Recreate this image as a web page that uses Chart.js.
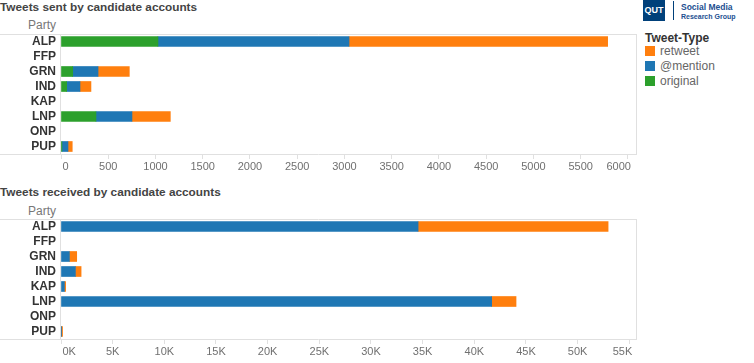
<!DOCTYPE html>
<html>
<head>
<meta charset="utf-8">
<script src="https://cdn.jsdelivr.net/npm/chart.js@4/dist/chart.umd.min.js"></script>
<style>
  body { margin: 0; background: #fff; width: 754px; height: 363px; overflow: hidden; position: relative; font-family: Arial, "Liberation Sans", sans-serif; }
  .abs { position: absolute; white-space: nowrap; }
  .title { font-size: 11.8px; font-weight: bold; color: #444; line-height: 13px; left: 0; }
  .party { font-size: 12px; color: #777; line-height: 14px; width: 56px; text-align: right; left: 0; }
  .lgTitle { left: 645px; top: 31px; font-size: 12px; font-weight: bold; color: #333; line-height: 14px; }
  .lgItem { left: 645px; height: 15px; font-size: 12px; color: #666; line-height: 15px; }
  .lgItem i { display: inline-block; width: 10px; height: 10px; vertical-align: -1px; margin-right: 5px; }
  .logo { left: 643px; top: 0; width: 22px; height: 21px; background: #00407a; color: #fff; font-size: 9px; font-weight: bold; line-height: 21px; text-align: center; }
  .logoBar { left: 673px; top: 1px; width: 1px; height: 19px; background: #00407a; }
  .logoTxt { left: 681px; color: #1d4f91; font-weight: bold; }
  canvas { position: absolute; left: 0; }
</style>
</head>
<body>
<div class="abs title" style="top:1px">Tweets sent by candidate accounts</div>
<div class="abs party" style="top:18px">Party</div>
<div class="abs title" style="top:186px">Tweets received by candidate accounts</div>
<div class="abs party" style="top:204px">Party</div>

<div class="abs logo">QUT</div>
<div class="abs logoBar"></div>
<div class="abs logoTxt" style="top:2px;font-size:8.5px;line-height:10px">Social Media</div>
<div class="abs logoTxt" style="top:12px;font-size:7px;line-height:9px">Research Group</div>

<div class="abs lgTitle">Tweet-Type</div>
<div id="legend"></div>

<canvas id="sent" width="640" height="160" style="top:20px"></canvas>
<canvas id="recv" width="640" height="163" style="top:200px"></canvas>

<script>
const parties = ['ALP', 'FFP', 'GRN', 'IND', 'KAP', 'LNP', 'ONP', 'PUP'];

const sentOriginal = [1026, 0, 124, 60, 0, 370, 0, 10];
const sentMention = [2022, 0, 268, 141, 0, 381, 0, 64];
const sentRetweet = [2737, 0, 331, 116, 0, 406, 0, 45];

const recvOriginal = [0, 0, 0, 0, 0, 0, 0, 0];
const recvMention = [34560, 0, 813, 1394, 329, 41680, 0, 20];
const recvRetweet = [18390, 0, 707, 551, 120, 2360, 0, 130];

// tick labels; the axis runs a little past the last tick, as in the original
const sentTicks = [0, 500, 1000, 1500, 2000, 2500, 3000, 3500, 4000, 4500, 5000, 5500, 6000];
const sentAxisMax = 6085;
const recvTicks = [0, 5000, 10000, 15000, 20000, 25000, 30000, 35000, 40000, 45000, 50000, 55000];
const recvAxisMax = 55650;

const tweetTypes = ['retweet', '@mention', 'original'];
const typeColors = { retweet: '#ff7f0e', '@mention': '#1f77b4', original: '#2ca02c' };

// legend
const legend = document.getElementById('legend');
tweetTypes.forEach((t, i) => {
    const d = document.createElement('div');
    d.className = 'abs lgItem';
    d.style.top = (44 + i * 15) + 'px';
    d.innerHTML = '<i style="background:' + typeColors[t] + '"></i>' + t;
    legend.appendChild(d);
});

// frame lines + edge-aligned x tick labels like the original
const frame = {
    id: 'frame',
    afterDraw(chart, args, opts) {
        const { ctx, chartArea: a, scales: { x } } = chart;
        ctx.save();
        ctx.strokeStyle = '#e0e0e0';
        ctx.lineWidth = 1;
        ctx.beginPath();
        ctx.moveTo(0, a.top + 0.5); ctx.lineTo(a.right + 1, a.top + 0.5);
        ctx.moveTo(0, a.bottom + 0.5); ctx.lineTo(a.right + 1, a.bottom + 0.5);
        ctx.moveTo(a.right + 0.5, a.top); ctx.lineTo(a.right + 0.5, a.bottom);
        ctx.moveTo(a.left - 0.5, a.top); ctx.lineTo(a.left - 0.5, a.bottom);
        ctx.stroke();

        ctx.font = '11px Arial, "Liberation Sans"';
        ctx.fillStyle = '#707070';
        ctx.textBaseline = 'middle';
        const n = x.ticks.length;
        x.ticks.forEach((t, i) => {
            const px = x.getPixelForTick(i);
            let dx = 0;
            if (i === 0) { ctx.textAlign = 'left'; dx = 1.5; }
            else if (i === n - 1) { ctx.textAlign = 'right'; dx = 3; }
            else ctx.textAlign = 'center';
            ctx.fillText(opts.format(t.value), px + dx, a.bottom + 13);
        });
        ctx.restore();
    }
};

function makeChart(id, original, mention, retweet, ticks, axisMax, xHeight, padTop, format) {
    const ds = (label, data) => ({
        label,
        data: data.map(v => v || null),
        backgroundColor: typeColors[label],
        borderWidth: 0,
        barThickness: 10
    });
    return new Chart(document.getElementById(id), {
        type: 'bar',
        data: {
            labels: parties,
            datasets: [ds('original', original), ds('@mention', mention), ds('retweet', retweet)]
        },
        options: {
            indexAxis: 'y',
            responsive: false,
            devicePixelRatio: 1,
            animation: false,
            layout: { padding: { top: padTop, right: 4, left: 0, bottom: 0 } },
            plugins: {
                legend: { display: false },
                tooltip: { enabled: false },
                frame: { format }
            },
            scales: {
                x: {
                    type: 'linear',
                    stacked: true,
                    min: 0,
                    max: axisMax,
                    afterBuildTicks: s => { s.ticks = ticks.map(v => ({ value: v })); },
                    afterFit: s => { s.height = xHeight; },
                    grid: { drawOnChartArea: false, drawTicks: true, tickLength: 5, color: '#e0e0e0' },
                    border: { display: false },
                    ticks: { display: false }
                },
                y: {
                    stacked: true,
                    afterFit: s => { s.width = 61; },
                    grid: { display: false, drawTicks: false },
                    border: { display: false },
                    ticks: {
                        autoSkip: false,
                        padding: 5,
                        color: '#333',
                        font: { family: 'Arial, "Liberation Sans"', size: 12, weight: 'bold' }
                    }
                }
            }
        },
        plugins: [frame]
    });
}

makeChart('sent', sentOriginal, sentMention, sentRetweet, sentTicks, sentAxisMax, 26, 14, v => String(v));
makeChart('recv', recvOriginal, recvMention, recvRetweet, recvTicks, recvAxisMax, 24, 19, v => (v / 1000) + 'K');
</script>
</body>
</html>
